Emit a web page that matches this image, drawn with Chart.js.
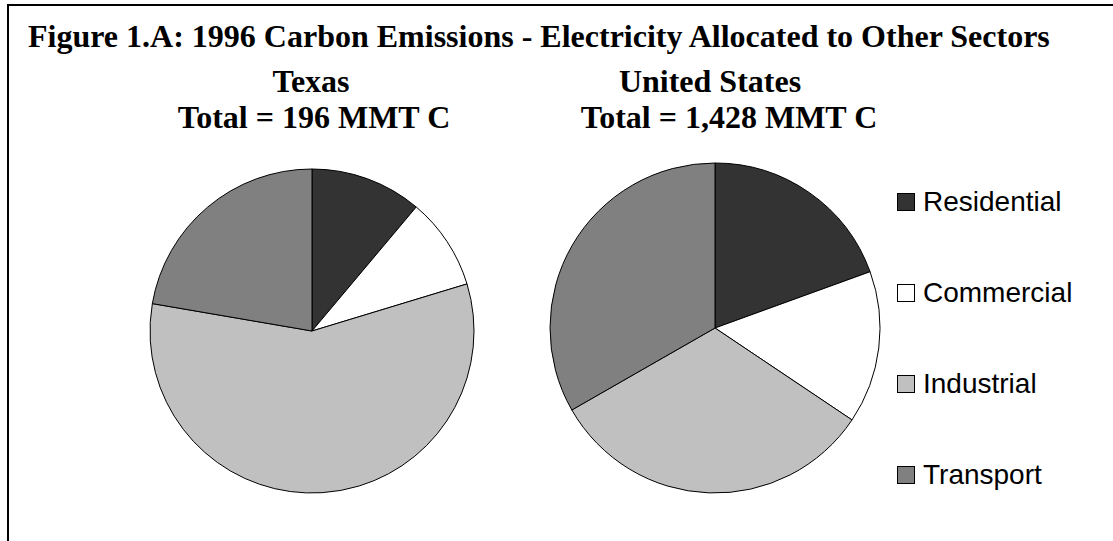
<!DOCTYPE html>
<html>
<head>
<meta charset="utf-8">
<script src="https://cdn.jsdelivr.net/npm/chart.js@4/dist/chart.umd.min.js"></script>
<style>
  html, body { margin: 0; padding: 0; background: #fff; width: 1113px; height: 541px; overflow: hidden; }
  #frame { position: absolute; left: 7px; top: 4px; width: 1130px; height: 580px; border: 2px solid #000; box-sizing: border-box; }
  .t { position: absolute; font-family: "Liberation Serif", "Times New Roman", serif; font-weight: bold;
       font-size: 32px; line-height: 32px; white-space: nowrap; color: #000; }
  .c { transform: translateX(-50%); }
  .pie { position: absolute; }
  .leg { position: absolute; left: 897px; font-family: "Liberation Sans", Arial, sans-serif; font-size: 28px;
         line-height: 28px; white-space: nowrap; color: #000; }
  .leg .box { position: absolute; left: 0; width: 18px; height: 18px; box-sizing: border-box; border: 1px solid #000; }
  .leg .lbl { position: absolute; left: 26px; top: 0; }
</style>
</head>
<body>
<div id="frame"></div>
<div class="t" style="left:28px; top:20px;" id="mainTitle"></div>
<div class="t c" style="left:311px; top:65px;" id="txName"></div>
<div class="t c" style="left:314px; top:101px;" id="txTotal"></div>
<div class="t c" style="left:710px; top:65px;" id="usName"></div>
<div class="t c" style="left:729px; top:101px;" id="usTotal"></div>
<canvas class="pie" id="texasPie" width="330" height="330" style="left:147px; top:166px;"></canvas>
<canvas class="pie" id="usPie" width="336" height="336" style="left:547px; top:160px;"></canvas>
<div id="legend"></div>

<script>
// Emission sectors and their fills
const sectors = ['Residential', 'Commercial', 'Industrial', 'Transport'];
const sectorColors = ['#333333', '#ffffff', '#c0c0c0', '#808080'];

// 1996 carbon emissions by sector, electricity allocated (MMT C)
const texasValues = [21.8, 18.0, 112.5, 43.7];
const usValues = [277.9, 213.4, 461.5, 475.2];

// Headings
const mainTitle = 'Figure 1.A: 1996 Carbon Emissions - Electricity Allocated to Other Sectors';
const texasTitle = ['Texas', 'Total = 196 MMT C'];
const usTitle = ['United States', 'Total = 1,428 MMT C'];

document.getElementById('mainTitle').textContent = mainTitle;
document.getElementById('txName').textContent = texasTitle[0];
document.getElementById('txTotal').textContent = texasTitle[1];
document.getElementById('usName').textContent = usTitle[0];
document.getElementById('usTotal').textContent = usTitle[1];

function makePie(id, values, radius) {
  return new Chart(document.getElementById(id), {
    type: 'pie',
    data: {
      labels: sectors,
      datasets: [{
        data: values,
        backgroundColor: sectorColors,
        borderColor: '#000000',
        borderWidth: 1,
        hoverOffset: 0
      }]
    },
    options: {
      responsive: false,
      animation: false,
      radius: radius,
      layout: { padding: 0 },
      plugins: {
        legend: { display: false },
        tooltip: { enabled: false },
        title: { display: false }
      }
    }
  });
}

const texasChart = makePie('texasPie', texasValues, 162);
const usChart = makePie('usPie', usValues, 165);

// Shared legend on the right, built from the chart's own legend items
const items = usChart.options.plugins.legend.labels.generateLabels(usChart);
const legend = document.getElementById('legend');
items.forEach((it, i) => {
  const row = document.createElement('div');
  row.className = 'leg';
  row.style.top = (188 + i * 91) + 'px';
  const box = document.createElement('span');
  box.className = 'box';
  box.style.top = '5px';
  box.style.background = it.fillStyle;
  const lbl = document.createElement('span');
  lbl.className = 'lbl';
  lbl.textContent = it.text;
  row.appendChild(box);
  row.appendChild(lbl);
  legend.appendChild(row);
});
</script>
</body>
</html>
